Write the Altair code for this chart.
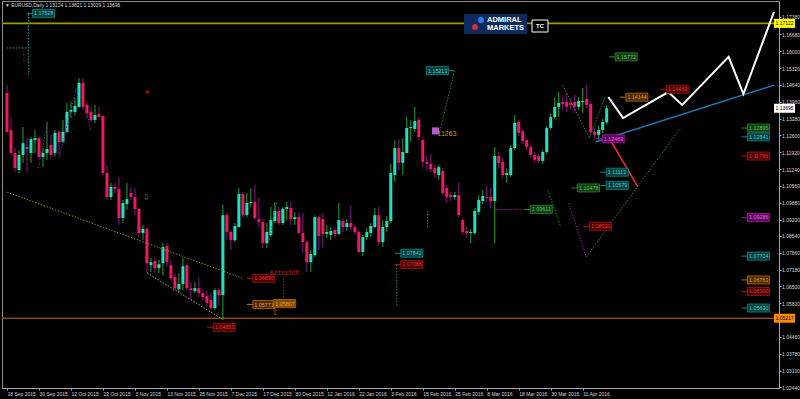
import altair as alt
import pandas as pd

# ---------------- data ----------------
OPEN = [1.1431,1.1282,1.1189,1.1120,1.1181,1.1213,1.1189,1.1241,1.1249,1.1173,
        1.1189,1.1221,1.1189,1.1274,1.1233,1.1274,1.1355,1.1355,1.1375,1.1472,
        1.1383,1.1355,1.1322,1.1346,1.1338,1.1108,1.1011,1.1052,1.1043,1.0926,
        1.0983,1.1027,1.1011,1.0963,1.0866,1.0882,1.0736,1.0752,1.0724,1.0744,
        1.0813,1.0736,1.0688,1.0639,1.0660,1.0736,1.0643,1.0631,1.0643,1.0623,
        1.0611,1.0595,1.0563,1.0635,1.0615,1.0938,1.0870,1.0837,1.0890,1.1023,
        1.0938,1.0987,1.0991,1.0922,1.0910,1.0825,1.0858,1.0914,1.0955,1.0906,
        1.0963,1.0967,1.0922,1.0930,1.0866,1.0829,1.0748,1.0777,1.0930,1.0922,
        1.0862,1.0858,1.0878,1.0862,1.0914,1.0890,1.0906,1.0890,1.0870,1.0789,
        1.0849,1.0866,1.0890,1.0938,1.0829,1.0890,1.0914,1.1100,1.1209,1.1149,
        1.1189,1.1290,1.1286,1.1322,1.1241,1.1153,1.1145,1.1128,1.1100,1.1116,
        1.1047,1.1019,1.1011,1.1019,1.0918,1.0874,1.0866,1.0866,1.0951,1.0995,
        1.1011,1.1011,1.0995,1.1177,1.1153,1.1100,1.1100,1.1209,1.1314,1.1278,
        1.1241,1.1213,1.1181,1.1177,1.1157,1.1193,1.1290,1.1334,1.1375,1.1395,
        1.1395,1.1391,1.1395,1.1375,1.1395,1.1407,1.1387,1.1274,1.1262,1.1282,
        1.13124]
HIGH = [1.1464,1.1330,1.1209,1.1201,1.1294,1.1249,1.1253,1.1282,1.1253,1.1209,
        1.1314,1.1262,1.1282,1.1282,1.1322,1.1391,1.1395,1.1411,1.1492,1.1492,
        1.1391,1.1375,1.1383,1.1375,1.1342,1.1140,1.1068,1.1068,1.1092,1.0999,
        1.1068,1.1052,1.1047,1.0967,1.0898,1.0890,1.0765,1.0765,1.0757,1.0825,
        1.0825,1.0757,1.0704,1.0704,1.0765,1.0744,1.0668,1.0668,1.0688,1.0635,
        1.0635,1.0623,1.0643,1.0643,1.0979,1.0950,1.0878,1.0906,1.1047,1.1031,
        1.1027,1.1047,1.1060,1.1011,1.0918,1.0906,1.0971,1.0991,1.0971,1.0971,
        1.0991,1.0991,1.0950,1.0946,1.0946,1.0837,1.0797,1.0938,1.0938,1.0946,
        1.0898,1.0890,1.0886,1.0987,1.0926,1.0922,1.0975,1.0898,1.0878,1.0858,
        1.0886,1.0906,1.0967,1.0971,1.0918,1.0935,1.1144,1.1241,1.1245,1.1249,
        1.1334,1.1322,1.1375,1.1334,1.1253,1.1177,1.1185,1.1141,1.1141,1.1128,
        1.1060,1.1031,1.1031,1.1068,1.0926,1.0890,1.0882,1.0967,1.1019,1.1039,
        1.1056,1.1047,1.1213,1.1193,1.1169,1.1128,1.1221,1.1342,1.1322,1.1286,
        1.1249,1.1221,1.1193,1.1185,1.1201,1.1298,1.1350,1.1411,1.1435,1.1415,
        1.1431,1.1411,1.1423,1.1415,1.1451,1.1464,1.1395,1.1290,1.1298,1.1326,
        1.13821]
LOW = [1.1270,1.1181,1.1112,1.1108,1.1149,1.1112,1.1149,1.1189,1.1161,1.1132,
       1.1161,1.1169,1.1173,1.1181,1.1229,1.1270,1.1330,1.1342,1.1371,1.1363,
       1.1330,1.1314,1.1310,1.1330,1.1100,1.0999,1.0999,1.1027,1.0898,1.0906,
       1.0959,1.0999,1.0938,1.0850,1.0837,1.0704,1.0708,1.0704,1.0704,1.0696,
       1.0728,1.0676,1.0635,1.0627,1.0635,1.0635,1.0595,1.0623,1.0607,1.0595,
       1.0567,1.0555,1.0555,1.0575,1.0514,1.0837,1.0797,1.0829,1.0886,1.0926,
       1.0930,1.0971,1.0918,1.0890,1.0805,1.0805,1.0850,1.0906,1.0898,1.0898,
       1.0918,1.0898,1.0898,1.0858,1.0785,1.0708,1.0708,1.0769,1.0797,1.0809,
       1.0846,1.0837,1.0846,1.0858,1.0870,1.0874,1.0878,1.0858,1.0785,1.0773,
       1.0837,1.0849,1.0886,1.0817,1.0809,1.0870,1.0906,1.1072,1.1120,1.1100,
       1.1189,1.1233,1.1274,1.1241,1.1132,1.1120,1.1112,1.1088,1.1080,1.1019,
       1.0987,1.0995,1.0999,1.0930,1.0858,1.0846,1.0825,1.0858,1.0938,1.0983,
       1.0991,1.0963,1.0825,1.1128,1.1088,1.1068,1.1092,1.1201,1.1257,1.1225,
       1.1201,1.1169,1.1149,1.1149,1.1145,1.1185,1.1282,1.1326,1.1334,1.1363,
       1.1355,1.1363,1.1350,1.1363,1.1350,1.1371,1.1266,1.1246,1.1241,1.1270,
       1.13029]
CLOSE = [1.1274,1.1189,1.1128,1.1181,1.1229,1.1205,1.1245,1.1249,1.1173,1.1189,
         1.1205,1.1181,1.1270,1.1233,1.1274,1.1355,1.1363,1.1379,1.1472,1.1375,
         1.1350,1.1322,1.1342,1.1334,1.1108,1.1011,1.1052,1.1043,1.0926,1.0987,
         1.1003,1.1011,1.0963,1.0866,1.0882,1.0744,1.0748,1.0724,1.0740,1.0809,
         1.0748,1.0684,1.0643,1.0660,1.0732,1.0643,1.0635,1.0643,1.0623,1.0607,
         1.0583,1.0563,1.0635,1.0615,1.0938,1.0870,1.0837,1.0894,1.1023,1.0938,
         1.0987,1.0991,1.0926,1.0910,1.0825,1.0870,1.0918,1.0955,1.0906,1.0963,
         1.0971,1.0922,1.0930,1.0866,1.0829,1.0748,1.0781,1.0930,1.0854,1.0862,
         1.0870,1.0874,1.0862,1.0918,1.0890,1.0906,1.0890,1.0870,1.0789,1.0849,
         1.0870,1.0894,1.0938,1.0829,1.0890,1.0914,1.1108,1.1209,1.1149,1.1193,
         1.1290,1.1294,1.1318,1.1253,1.1153,1.1145,1.1124,1.1108,1.1132,1.1027,
         1.1011,1.1011,1.1019,1.0938,1.0870,1.0866,1.0870,1.0955,1.0999,1.1015,
         1.1007,1.0995,1.1177,1.1149,1.1100,1.1108,1.1209,1.1310,1.1270,1.1237,
         1.1213,1.1181,1.1161,1.1157,1.1193,1.1290,1.1334,1.1375,1.1391,1.1387,
         1.1375,1.1383,1.1375,1.1399,1.1399,1.1383,1.1274,1.1262,1.1282,1.1314,
         1.13695]

DATE_LABELS = ["18 Sep 2015", "30 Sep 2015", "12 Oct 2015", "22 Oct 2015", "3 Nov 2015",
               "13 Nov 2015", "25 Nov 2015", "7 Dec 2015", "17 Dec 2015", "30 Dec 2015",
               "12 Jan 2016", "22 Jan 2016", "3 Feb 2016", "15 Feb 2016", "25 Feb 2016",
               "8 Mar 2016", "18 Mar 2016", "30 Mar 2016", "11 Apr 2016"]
X_TICKS = [8 * k for k in range(len(DATE_LABELS))]
# 1.05140 sits under the orange 1.05217 axis tag in the reference, so it is not drawn
Y_TICKS = [1.17380, 1.16680, 1.16000, 1.15320, 1.14640, 1.13960, 1.13280, 1.12600,
           1.11920, 1.11240, 1.10560, 1.09880, 1.09200, 1.08540, 1.07860, 1.07180,
           1.06500, 1.05820, 1.04460, 1.03780, 1.03100, 1.02440]

X_MIN, X_MAX = 0.0, 191.85
Y_MIN, Y_MAX = 1.02400, 1.18026

# horizontal levels
LEVEL_PRICE = [1.17122, 1.05217]
LEVEL_COLOR = ["#9c9c00", "#8a4a12"]
AXIS_TAG_PRICE = [1.17122, 1.13695, 1.05217]
AXIS_TAG_FILL = ["#ffff00", "#ffffff", "#ff8c00"]

# projection zigzag (white)
ZZ_I = [150.4, 154.1, 165.4, 168.9, 180.5, 184.2, 191.85]
ZZ_P = [1.1415, 1.1330, 1.1435, 1.1383, 1.1577, 1.1427, 1.1759]

# solid trend lines: blue channel, red leg
SOLID_I1 = [147.2, 150.9]
SOLID_P1 = [1.1233, 1.1242]
SOLID_I2 = [191.85, 157.8]
SOLID_P2 = [1.1463, 1.1052]
SOLID_C = ["#1c78b4", "#ff2a2a"]

# dotted indicator lines
DOT_I1 = [0.0, 35.1, 111.9, 105.2, 97.5, 135.3, 139.0, 145.7, 144.9, 140.5, 122.2, 69.2,
          0.0, 5.4, 4.2, 7.9, 13.1, 20.0, 65.7]
DOT_P1 = [1.1031, 1.0704, 1.1520, 1.0955, 1.0737, 1.1040, 1.1463, 1.1249, 1.0769, 1.0987,
          1.0961, 1.0684, 1.1613, 1.1750, 1.1613, 1.1128, 1.1173, 1.1350, 1.0838]
DOT_I2 = [58.8, 53.8, 108.4, 105.2, 97.5, 138.5, 145.7, 149.6, 168.4, 144.9, 130.9, 69.2,
          4.9, 5.4, 4.2, 10.1, 17.3, 21.0, 67.4]
DOT_P2 = [1.0684, 1.0519, 1.1282, 1.0886, 1.0567, 1.0890, 1.1249, 1.1419, 1.1290, 1.0769,
          1.0961, 1.0595, 1.1613, 1.1504, 1.1552, 1.1314, 1.1451, 1.1278, 1.0987]
DOT_C = ["#8c8c00", "#a0a0a0", "#1f8a3a", "#1f8a3a", "#1f8a3a", "#1f8a3a", "#1f8a3a",
         "#1f8a3a", "#1f8a3a", "#9a1a9a", "#9a1a9a", "#b01010",
         "#119a9a", "#119a9a", "#9a1010", "#8a1a9a", "#8a1a9a", "#8a1a9a", "#1f8a3a"]

# price tag labels
TAG_I = [6.4, 104.9, 152.1, 154.8, 164.9, 185.2, 185.2, 185.2, 185.2, 185.2, 185.2, 185.2,
         185.2, 148.9, 149.9, 149.9, 142.7, 130.9, 145.7, 98.5, 98.5, 61.5, 61.5, 66.7, 51.6]
TAG_P = [1.17528, 1.15213, 1.15772, 1.14144, 1.14463, 1.12895, 1.12541, 1.11765, 1.09286,
         1.07724, 1.06763, 1.06300, 1.05630, 1.12463, 1.11113, 1.10579, 1.10478, 1.09611,
         1.08930, 1.07842, 1.07388, 1.06830, 1.05771, 1.05807, 1.04853]
TAG_KIND = ["teal", "teal", "green", "orange", "red", "green", "teal", "red", "purple",
            "teal", "orange", "red", "teal", "purple", "teal", "teal", "green", "green",
            "red", "teal", "red", "red", "orange", "orange", "red"]
TAG_LEAD = ["L", "R", "L", "L", "L", "L", "L", "L", "L", "L", "L", "L", "L", "L", "L", "L",
            "L", "L", "L", "L", "L", "L", "L", "N", "L"]
KIND_BORDER = {"teal": "#0f8c8c", "green": "#2a8a2a", "orange": "#c06a00",
               "red": "#b01414", "purple": "#a020a0"}
KIND_FILL = {"teal": "#003c3c", "green": "#123a12", "orange": "#4a2800",
             "red": "#460000", "purple": "#5a005a"}
KIND_TEXT = {"teal": "#4fd0d0", "green": "#5cc85c", "orange": "#f09a30",
             "red": "#e83a3a", "purple": "#f060f0"}

HEADER = "\u25bc EURUSD,Daily 1.13124 1.13821 1.13029 1.13695"

# ---------------- tables ----------------
cd = pd.DataFrame({"i": range(len(OPEN)), "open": OPEN, "high": HIGH,
                   "low": LOW, "close": CLOSE})
cd["bull"] = cd["close"] >= cd["open"]
cd["body"] = cd["bull"].map({True: "#1ce3c3", False: "#f2185e"})
cd["wick"] = cd["bull"].map({True: "#26a226", False: "#86168c"})

zz = pd.DataFrame({"i": ZZ_I, "p": ZZ_P, "o": range(len(ZZ_I))})
solid = pd.DataFrame({"i1": SOLID_I1, "p1": SOLID_P1, "i2": SOLID_I2, "p2": SOLID_P2, "c": SOLID_C})
dots = pd.DataFrame({"i1": DOT_I1, "p1": DOT_P1, "i2": DOT_I2, "p2": DOT_P2, "c": DOT_C})
tags = pd.DataFrame({"i": TAG_I, "p": TAG_P, "lead": TAG_LEAD,
                     "txt": [f"{v:.5f}" for v in TAG_P],
                     "border": [KIND_BORDER[k] for k in TAG_KIND],
                     "fill": [KIND_FILL[k] for k in TAG_KIND],
                     "tc": [KIND_TEXT[k] for k in TAG_KIND]})
tags.loc[tags["txt"] == "1.05807", "fill"] = "#7a4a00"
levels = pd.DataFrame({"p": LEVEL_PRICE, "c": LEVEL_COLOR})
axtags = pd.DataFrame({"p": AXIS_TAG_PRICE, "f": AXIS_TAG_FILL, "e": X_MAX,
                       "txt": [f"{v:.5f}" for v in AXIS_TAG_PRICE]})

FONT = "Liberation Sans"
AXF = 5.0
xs = alt.Scale(domain=[X_MIN, X_MAX], nice=False, zero=False)
ys = alt.Scale(domain=[Y_MIN, Y_MAX], nice=False, zero=False)

label_arr = "[" + ",".join(f"'{d}'" for d in DATE_LABELS) + "]"
x_axis = alt.Axis(values=X_TICKS, labelExpr=label_arr + "[round(datum.value/8)]",
                  grid=False, domainColor="#a8a8a8", tickColor="#a8a8a8", tickSize=2,
                  labelColor="#d4d4d4", labelFont=FONT, labelFontSize=AXF,
                  labelAlign="left", labelPadding=1, labelOverlap=False,
                  title=None, labelFlush=False)
y_axis = alt.Axis(values=Y_TICKS, format=".5f", orient="right", grid=False,
                  domainColor="#a8a8a8", tickColor="#a8a8a8", tickSize=2,
                  labelColor="#d4d4d4", labelFont=FONT, labelFontSize=AXF,
                  labelPadding=0.5, labelOverlap=False, title=None, labelFlush=False)


def X(field):
    return alt.X(field, scale=xs, axis=x_axis)


def Y(field):
    return alt.Y(field, scale=ys, axis=y_axis)


base = alt.Chart(cd)

# level lines (yellow / brown)
lv = alt.Chart(levels).mark_rule(strokeWidth=1.6).encode(
    y=Y("p:Q"), color=alt.Color("c:N", scale=None))

# candles
wick = base.mark_rule(strokeWidth=1, clip=True).encode(
    x=X("i:Q"), y=Y("low:Q"), y2="high:Q", color=alt.Color("wick:N", scale=None))
body = base.mark_bar(size=3, clip=True).encode(
    x=X("i:Q"), y=Y("open:Q"), y2="close:Q", color=alt.Color("body:N", scale=None))

dot_l = alt.Chart(dots).mark_rule(strokeWidth=1, strokeDash=[1.5, 1.5], clip=True).encode(
    x=X("i1:Q"), x2="i2:Q", y=Y("p1:Q"), y2="p2:Q", color=alt.Color("c:N", scale=None))
sol_l = alt.Chart(solid).mark_rule(strokeWidth=1.5, clip=True).encode(
    x=X("i1:Q"), x2="i2:Q", y=Y("p1:Q"), y2="p2:Q", color=alt.Color("c:N", scale=None))
zz_l = alt.Chart(zz).mark_line(color="#ffffff", strokeWidth=2, clip=True).encode(
    x=X("i:Q"), y=Y("p:Q"), order="o:Q")

# price tags
lead_l = alt.Chart(tags).transform_filter("datum.lead == 'L'").mark_rule(
    xOffset=-6, x2Offset=0, strokeWidth=1).encode(
    x=X("i:Q"), x2="i:Q", y=Y("p:Q"), color=alt.Color("border:N", scale=None))
lead_r = alt.Chart(tags).transform_filter("datum.lead == 'R'").mark_rule(
    xOffset=22, x2Offset=28, strokeWidth=1).encode(
    x=X("i:Q"), x2="i:Q", y=Y("p:Q"), color=alt.Color("border:N", scale=None))
tag_box = alt.Chart(tags).mark_rect(x2Offset=22, yOffset=-4, y2Offset=4, strokeWidth=0.8).encode(
    x=X("i:Q"), x2="i:Q", y=Y("p:Q"), y2="p:Q",
    fill=alt.Fill("fill:N", scale=None), stroke=alt.Stroke("border:N", scale=None))
tag_txt = alt.Chart(tags).mark_text(align="left", baseline="middle", dx=1.5, font=FONT,
                                    fontSize=5.4).encode(
    x=X("i:Q"), y=Y("p:Q"), text="txt:N", color=alt.Color("tc:N", scale=None))

# axis tags on the right
ax_box = alt.Chart(axtags).mark_rect(x2Offset=21, yOffset=-4.5, y2Offset=4.5).encode(
    x=X("e:Q"), x2="e:Q", y=Y("p:Q"), y2="p:Q", fill=alt.Fill("f:N", scale=None))
ax_txt = alt.Chart(axtags).mark_text(align="left", baseline="middle", dx=1.5, font=FONT,
                                     fontSize=AXF, color="#000000").encode(
    x=X("e:Q"), y=Y("p:Q"), text="txt:N")

# annotations
notes = pd.DataFrame({"i": [69.4, 107.7], "p": [1.0704, 1.1266],
                      "t": ["Kribsch!!!", "11263"], "c": ["#c01010", "#a8a828"]})
note_k = alt.Chart(notes.iloc[[0]]).mark_text(font=FONT, fontSize=7, align="center",
                                               baseline="middle").encode(
    x=X("i:Q"), y=Y("p:Q"), text="t:N", color=alt.Color("c:N", scale=None))
note_n = alt.Chart(notes.iloc[[1]]).mark_text(font=FONT, fontSize=7, align="left",
                                               baseline="middle").encode(
    x=X("i:Q"), y=Y("p:Q"), text="t:N", color=alt.Color("c:N", scale=None))
sq = alt.Chart(pd.DataFrame({"i": [107.2], "p": [1.1278]})).mark_square(
    size=50, color="#b45ad2", opacity=1).encode(x=X("i:Q"), y=Y("p:Q"))
xmark = alt.Chart(pd.DataFrame({"i": [35.1], "p": [1.1435]})).mark_point(
    shape="cross", angle=45, size=18, filled=True, color="#d01010").encode(
    x=X("i:Q"), y=Y("p:Q"))
arrows = alt.Chart(pd.DataFrame({"i": [34.8, 67.0], "p": [1.1007, 1.0543],
                                 "t": ["\u21e9", "\u21e7"]})).mark_text(
    font="DejaVu Sans", fontSize=8, color="#c86a10", baseline="middle").encode(
    x=X("i:Q"), y=Y("p:Q"), text="t:N")

# header + logo (decorative overlay, placed in pixels)
one = pd.DataFrame({"k": [0]})
hdr = alt.Chart(one).mark_text(
    align="left", baseline="middle", font=FONT, fontSize=4.9, color="#d8d8d8", text=HEADER
).encode(x=alt.value(3), y=alt.value(5))
logo_box = alt.Chart(one).mark_rect(color="#0d2a5e").encode(
    x=alt.value(462), x2=alt.value(525), y=alt.value(13), y2=alt.value(33))
dot_b = alt.Chart(one).mark_circle(size=34, opacity=1, color="#2f7fe8").encode(
    x=alt.value(479), y=alt.value(19))
dot_r = alt.Chart(one).mark_circle(size=34, opacity=1, color="#e02a3a").encode(
    x=alt.value(473), y=alt.value(26))
logo_t1 = alt.Chart(one).mark_text(
    align="left", baseline="middle", font=FONT, fontSize=7.5, fontWeight="bold",
    color="#ffffff", text="ADMIRAL").encode(x=alt.value(485), y=alt.value(19))
logo_t2 = alt.Chart(one).mark_text(
    align="left", baseline="middle", font=FONT, fontSize=7.5, fontWeight="bold",
    color="#ffffff", text="MARKETS").encode(x=alt.value(485), y=alt.value(27))
tc_box = alt.Chart(one).mark_rect(
    fill="#000000", stroke="#ffffff", strokeWidth=1).encode(
    x=alt.value(530), x2=alt.value(546), y=alt.value(19), y2=alt.value(31))
tc_txt = alt.Chart(one).mark_text(
    font=FONT, fontSize=6, fontWeight="bold", color="#ffffff", baseline="middle", text="TC"
).encode(x=alt.value(538), y=alt.value(25))

chart = alt.layer(
    lv, wick, body, dot_l, sol_l, zz_l, lead_l, lead_r, tag_box, tag_txt,
    ax_box, ax_txt, note_k, sq, note_n, xmark, arrows, hdr,
    logo_box, dot_b, dot_r, logo_t1, logo_t2, tc_box, tc_txt
).properties(
    width=777, height=387, background="#000000",
    padding={"left": 2, "top": 1, "right": 21, "bottom": 11},
    autosize=alt.AutoSizeParams(type="none"),
).configure_view(stroke="#8c8c8c", strokeWidth=1)

chart.save("out.html", embed_options={"renderer": "svg", "actions": False})
